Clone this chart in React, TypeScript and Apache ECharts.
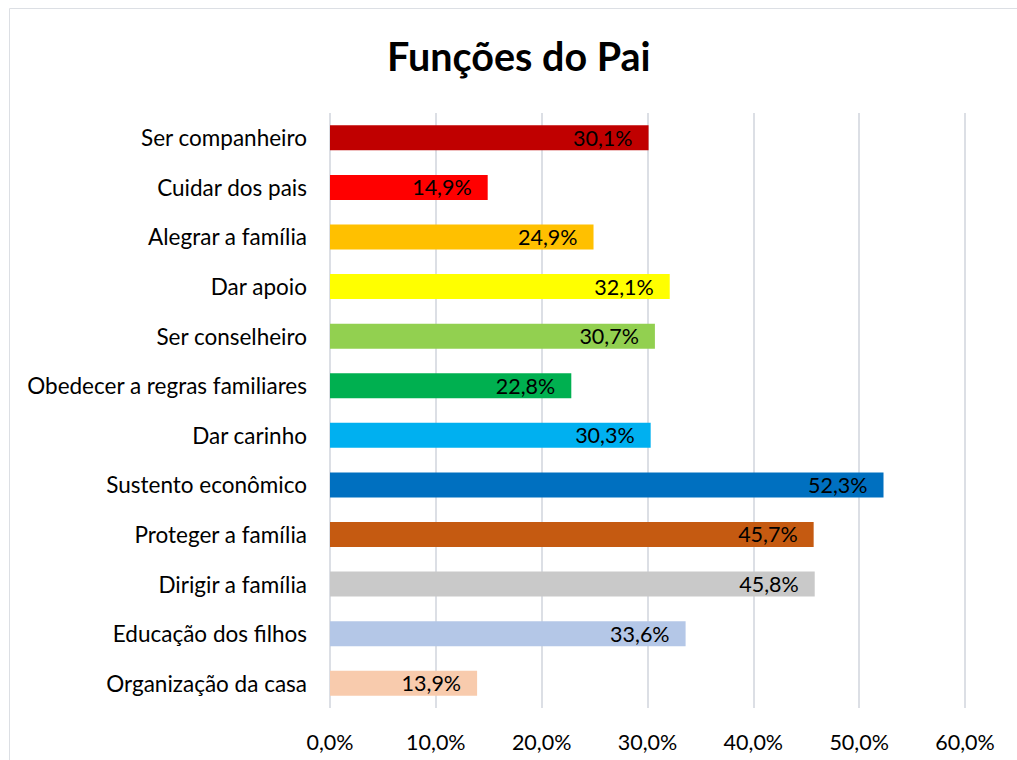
import React, { useEffect, useRef } from "react";
import * as echarts from "echarts";

const title = "Funções do Pai";
const categories = [
  "Ser companheiro",
  "Cuidar dos pais",
  "Alegrar a família",
  "Dar apoio",
  "Ser conselheiro",
  "Obedecer a regras familiares",
  "Dar carinho",
  "Sustento econômico",
  "Proteger a família",
  "Dirigir a família",
  "Educação dos filhos",
  "Organização da casa",
];
const values = [30.1, 14.9, 24.9, 32.1, 30.7, 22.8, 30.3, 52.3, 45.7, 45.8, 33.6, 13.9];
const colors = [
  "#C00000",
  "#FF0000",
  "#FFC000",
  "#FFFF00",
  "#92D050",
  "#00B050",
  "#00B0F0",
  "#0070C0",
  "#C55A11",
  "#C9C9C9",
  "#B4C7E7",
  "#F8CBAD",
];
const xTicks = [0, 10, 20, 30, 40, 50, 60];

const fmt = (v: number) => v.toFixed(1).replace(".", ",") + "%";

export default function App() {
  const ref = useRef<HTMLDivElement>(null);
  useEffect(() => {
    document.body.style.margin = "0";
    const chart = echarts.init(ref.current!, null, { renderer: "svg" });
    const font = "Lato, 'Noto Sans', sans-serif";
    chart.setOption({
      animation: false,
      backgroundColor: "#fff",
      title: {
        text: title,
        left: 382,
        top: 30,
        textStyle: { fontFamily: font, fontSize: 39.5, fontWeight: "bold", color: "#000" },
      },
      graphic: [
        {
          type: "rect",
          shape: { x: 9.5, y: 8.5, width: 1030, height: 800 },
          style: { fill: "none", stroke: "#dcdfe4", lineWidth: 1 },
          silent: true,
        },
      ],
      grid: { left: 330, right: 52, top: 113, bottom: 52, containLabel: false },
      xAxis: {
        type: "value",
        min: xTicks[0],
        max: xTicks[xTicks.length - 1],
        interval: 10,
        axisLine: { show: false },
        axisTick: { show: false },
        splitLine: { show: true, lineStyle: { color: "#dcdfe5", width: 2 } },
        axisLabel: {
          margin: 23,
          fontFamily: font,
          fontSize: 21.5,
          color: "#000",
          formatter: (v: number) => fmt(v),
        },
      },
      yAxis: {
        type: "category",
        data: categories,
        inverse: true,
        axisLine: { show: false },
        axisTick: { show: false },
        axisLabel: { margin: 23, fontFamily: font, fontSize: 22.5, color: "#000" },
      },
      series: [
        {
          type: "bar",
          data: values.map((v, i) => ({ value: v, itemStyle: { color: colors[i] } })),
          barWidth: 25,
          label: {
            show: true,
            position: "insideRight",
            distance: 16,
            fontFamily: font,
            fontSize: 21.5,
            color: "#000",
            formatter: (p: any) => fmt(p.value),
          },
        },
      ],
    });
    return () => chart.dispose();
  }, []);
  return (
    <div
      ref={ref}
      style={{ position: "absolute", left: 0, top: 0, width: 1017, height: 760 }}
    />
  );
}
